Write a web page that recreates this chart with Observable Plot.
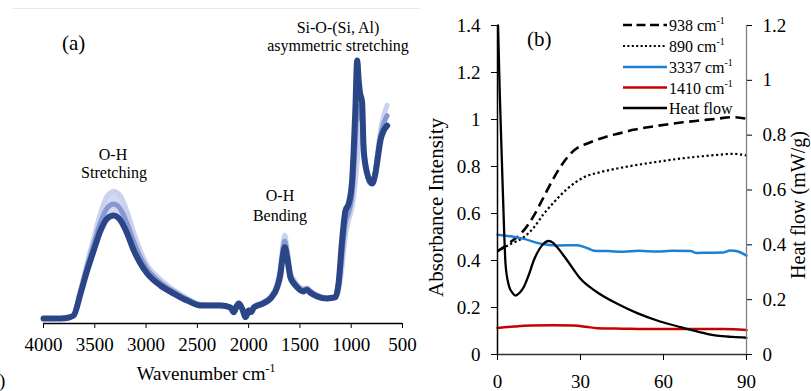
<!DOCTYPE html>
<html><head><meta charset="utf-8">
<script src="https://cdn.jsdelivr.net/npm/d3@7"></script>
<script src="https://cdn.jsdelivr.net/npm/@observablehq/plot@0.6"></script>
<style>
html,body{margin:0;padding:0;background:#fff;overflow:hidden;}
#wrap{position:relative;width:811px;height:391px;overflow:hidden;background:#fff;}
#pa,#pb,#ov{position:absolute;top:0;}
#pa{left:0px;} #pb{left:420px;}
#ov{left:0px;pointer-events:none;}
</style></head>
<body>
<div id="wrap"><div id="pa"></div><div id="pb"></div><svg id="ov" width="811" height="391"></svg></div>
<script>
// ---------- Panel (a): FTIR spectra ----------
const wavenumber = [4000,3834,3750,3705,3639,3574,3510,3444,3379,3315,3249,3184,3120,3055,2989,2860,2730,2599,2470,2372,2275,2177,2145,2120,2096,2060,2031,2010,1999,1975,1950,1853,1787,1722,1690,1673,1648,1625,1593,1560,1527,1470,1430,1400,1332,1235,1154,1122,1089,1056,1024,991,976,959,942,927,915,894,878,845,820,796,764,740,715,683,650];
const absEarly = [0,0,0.005,0.015,0.11,0.215,0.31,0.405,0.47,0.488,0.47,0.41,0.33,0.26,0.205,0.15,0.11,0.078,0.055,0.052,0.052,0.044,0.028,0.047,0.06,0.038,0.01,0.024,0.034,0.028,0.045,0.064,0.085,0.135,0.2,0.26,0.32,0.27,0.18,0.15,0.13,0.115,0.118,0.108,0.09,0.08,0.08,0.11,0.2,0.32,0.38,0.43,0.47,0.53,0.6,0.68,0.72,0.73,0.66,0.56,0.52,0.52,0.57,0.65,0.72,0.78,0.82];
const absMid = [0,0,0.004,0.013,0.103,0.2,0.285,0.37,0.425,0.44,0.42,0.365,0.295,0.235,0.19,0.138,0.103,0.073,0.052,0.051,0.051,0.043,0.026,0.046,0.059,0.036,0.007,0.022,0.032,0.026,0.043,0.061,0.081,0.127,0.185,0.24,0.297,0.252,0.17,0.142,0.125,0.11,0.114,0.104,0.088,0.078,0.081,0.125,0.25,0.37,0.41,0.48,0.56,0.68,0.82,0.78,0.77,0.77,0.65,0.56,0.525,0.52,0.565,0.635,0.7,0.75,0.78];
const absLate = [0,0,0.004,0.012,0.096,0.185,0.262,0.338,0.385,0.396,0.377,0.327,0.262,0.212,0.173,0.127,0.096,0.069,0.05,0.05,0.05,0.042,0.024,0.045,0.058,0.035,0.005,0.02,0.031,0.025,0.042,0.059,0.077,0.12,0.17,0.223,0.274,0.235,0.159,0.135,0.12,0.104,0.11,0.1,0.085,0.077,0.082,0.14,0.3,0.415,0.442,0.531,0.646,0.81,0.992,0.915,0.87,0.832,0.646,0.558,0.53,0.519,0.558,0.62,0.685,0.723,0.742];
const wavenumberTicks = [4000,3500,3000,2500,2000,1500,1000,500];
const absDomain = [-0.0192, 1];

// ---------- Panel (b): time series ----------
const time938 = [0,2,4.7,9.5,13.1,16.7,19.8,23.4,27.6,33.6,39.6,44.4,49.1,55,61.2,67,73.3,79,85.4,90];
const abs938  = [0.44,0.455,0.478,0.528,0.59,0.67,0.74,0.81,0.868,0.903,0.928,0.942,0.956,0.968,0.979,0.988,0.996,1.003,1.01,1.003];
const time890 = [0,4.7,9.5,13.1,16.7,20.4,25.2,31.2,37.2,44.4,49.1,55,61.2,67,73.3,79,85.4,90];
const abs890  = [0.44,0.47,0.499,0.54,0.598,0.648,0.705,0.754,0.776,0.794,0.804,0.815,0.826,0.835,0.843,0.849,0.854,0.847];
const time3337 = [0,4.7,9.5,15.7,21.7,28.9,32,34.9,40,45.6,51,57.7,63,69.7,72.1,76,81.7,84.1,87,90];
const abs3337  = [0.51,0.503,0.492,0.471,0.464,0.465,0.455,0.442,0.44,0.437,0.441,0.438,0.441,0.44,0.432,0.433,0.434,0.443,0.438,0.421];
const time1410 = [0,6,12,20,27.6,32,36,45,57.7,70,81.8,90];
const abs1410  = [0.113,0.119,0.123,0.124,0.123,0.118,0.112,0.11,0.108,0.108,0.108,0.104];
const timeHeat = [0.2,0.8,1.6,2.4,2.9,4.1,5.4,6.5,8,9.5,11.3,13.1,14.6,16.1,18.5,20,21.5,25.2,30,36,43.3,50.5,57.7,65,72.1,79.3,85,90];
const heatFlow = [1.2,0.96,0.7,0.45,0.33,0.252,0.225,0.215,0.225,0.246,0.29,0.343,0.375,0.398,0.414,0.408,0.392,0.343,0.276,0.227,0.185,0.151,0.124,0.103,0.084,0.069,0.064,0.061];
const timeTicks = [0,30,60,90];
const absTicks = [0,0.2,0.4,0.6,0.8,1,1.2,1.4];
const heatTicks = [0,0.2,0.4,0.6,0.8,1,1.2];
const legendLabels = ["938 cm", "890 cm", "3337 cm", "1410 cm", "Heat flow"];

const FONT = '"Liberation Serif", "Times New Roman", serif';

// Panel (a)
const rowsA = wavenumber.map((w, i) => ({w, early: absEarly[i], mid: absMid[i], late: absLate[i]}));
const plotA = Plot.plot({
  width: 420, height: 391, marginLeft: 43, marginRight: 18, marginTop: 10, marginBottom: 68,
  style: {fontFamily: FONT, fontSize: "19px", color: "#000", background: "transparent", overflow: "visible"},
  x: {domain: [4000, 500]},
  y: {domain: absDomain, range: [323, 58], axis: null},
  marks: [
    Plot.areaY(rowsA, {x: "w", y1: "late", y2: "early", fill: "#d3daf0", curve: "monotone-x"}),
    Plot.lineY(rowsA, {x: "w", y: "early", stroke: "#c9d1ee", strokeWidth: 5, curve: "monotone-x"}),
    Plot.lineY(rowsA, {x: "w", y: "mid", stroke: "#8698d0", strokeWidth: 5, curve: "monotone-x"}),
    Plot.lineY(rowsA, {x: "w", y: "late", stroke: "#2b4686", strokeWidth: 6, curve: "monotone-x"}),
    Plot.ruleY([absDomain[0]], {stroke: "#000", strokeWidth: 1.3}),
    Plot.axisX(wavenumberTicks, {tickSize: 5, tickPadding: 8.5, tickFormat: d => String(d), label: null, fontFamily: FONT})
  ]
});
document.getElementById("pa").appendChild(plotA);

// Panel (b)
const k = absTicks[absTicks.length - 1] / heatTicks[heatTicks.length - 1];
const fmt = d => { const r = Math.round(d * 10) / 10; return r === 0 ? "0" : String(r); };
const rows = (ts, vs) => ts.map((t, i) => ({t, v: vs[i]}));
const plotB = Plot.plot({
  width: 391, height: 391, marginLeft: 77, marginRight: 65, marginTop: 25, marginBottom: 37,
  style: {fontFamily: FONT, fontSize: "19px", color: "#000", background: "transparent", overflow: "visible"},
  x: {domain: [0, 90]},
  y: {domain: [0, 1.4]},
  marks: [
    Plot.line(rows(time938, abs938), {x: "t", y: "v", stroke: "#000", strokeWidth: 2.6, strokeDasharray: "10,5.5", strokeLinecap: "butt", curve: "monotone-x"}),
    Plot.line(rows(time890, abs890), {x: "t", y: "v", stroke: "#000", strokeWidth: 2.2, strokeDasharray: "2.2,2.6", strokeLinecap: "butt", curve: "monotone-x"}),
    Plot.line(rows(time3337, abs3337), {x: "t", y: "v", stroke: "#1f7fd4", strokeWidth: 2.5, curve: "monotone-x"}),
    Plot.line(rows(time1410, abs1410), {x: "t", y: "v", stroke: "#c80000", strokeWidth: 2.5, curve: "monotone-x"}),
    Plot.line(rows(timeHeat, heatFlow), {x: "t", y: d => d.v * k, stroke: "#000", strokeWidth: 2.3, curve: "monotone-x"}),
    Plot.ruleY([0], {stroke: "#333", strokeWidth: 1.3}),
    Plot.ruleX([0], {stroke: "#000", strokeWidth: 1.5}),
    Plot.ruleX([90], {stroke: "#7f7f7f", strokeWidth: 1.3}),
    Plot.axisX(timeTicks, {tickSize: 6, tickPadding: 13.5, tickFormat: d => String(d), label: null, fontFamily: FONT}),
    Plot.axisY(absTicks, {tickSize: 6, tickPadding: 11, tickFormat: fmt, label: null, fontFamily: FONT}),
    Plot.axisY(heatTicks.map(d => d * k), {anchor: "right", tickSize: 5, tickPadding: 11, tickFormat: d => fmt(d / k), label: null, fontFamily: FONT})
  ]
});
document.getElementById("pb").appendChild(plotB);

// ---------- Text annotations, titles and legend ----------
const ov = d3.select("#ov").style("font-family", FONT).attr("fill", "#000");
function txt(x, y, s, size, anchor = "middle", sup = null, rotate = 0) {
  const t = ov.append("text").attr("x", x).attr("y", y).attr("font-size", size).attr("text-anchor", anchor);
  if (rotate) t.attr("transform", `rotate(${rotate},${x},${y})`);
  t.append("tspan").text(s);
  if (sup) t.append("tspan").attr("dy", -0.42 * size).attr("font-size", 0.62 * size).text(sup);
  return t;
}
ov.append("line").attr("x1", 13).attr("x2", 420).attr("y1", 8.5).attr("y2", 8.5).attr("stroke", "#e8e8e8").attr("stroke-width", 1);
txt(62, 50, "(a)", 21, "start");
txt(527, 46, "(b)", 21, "start");
txt(338, 33, "Si-O-(Si, Al)", 16);
txt(338, 51, "asymmetric stretching", 16);
txt(113, 160, "O-H", 16);
txt(114, 178, "Stretching", 16);
txt(280, 201, "O-H", 16);
txt(280, 221, "Bending", 16);
txt(206, 380, "Wavenumber cm", 19, "middle", "-1");
txt(443, 207.5, "Absorbance Intensity", 21, "middle", null, -90);
txt(805, 205, "Heat flow (mW/g)", 20, "middle", null, -90);
txt(-1, 387, ")", 19, "start");

// legend
const legendY = [25, 46, 67, 87.5, 108];
const legendStyle = [
  {stroke: "#000", dash: "9,4.5", w: 2.6},
  {stroke: "#000", dash: "2,2.4", w: 2.2},
  {stroke: "#1f7fd4", dash: null, w: 2.5},
  {stroke: "#c80000", dash: null, w: 2.5},
  {stroke: "#000", dash: null, w: 2.5}
];
legendLabels.forEach((lab, i) => {
  const s = legendStyle[i];
  const l = ov.append("line").attr("x1", 623).attr("x2", 667).attr("y1", legendY[i]).attr("y2", legendY[i])
    .attr("stroke", s.stroke).attr("stroke-width", s.w);
  if (s.dash) l.attr("stroke-dasharray", s.dash);
  txt(669, legendY[i] + 6, lab, 16, "start", i < 4 ? "-1" : null);
});
</script>
</body></html>
